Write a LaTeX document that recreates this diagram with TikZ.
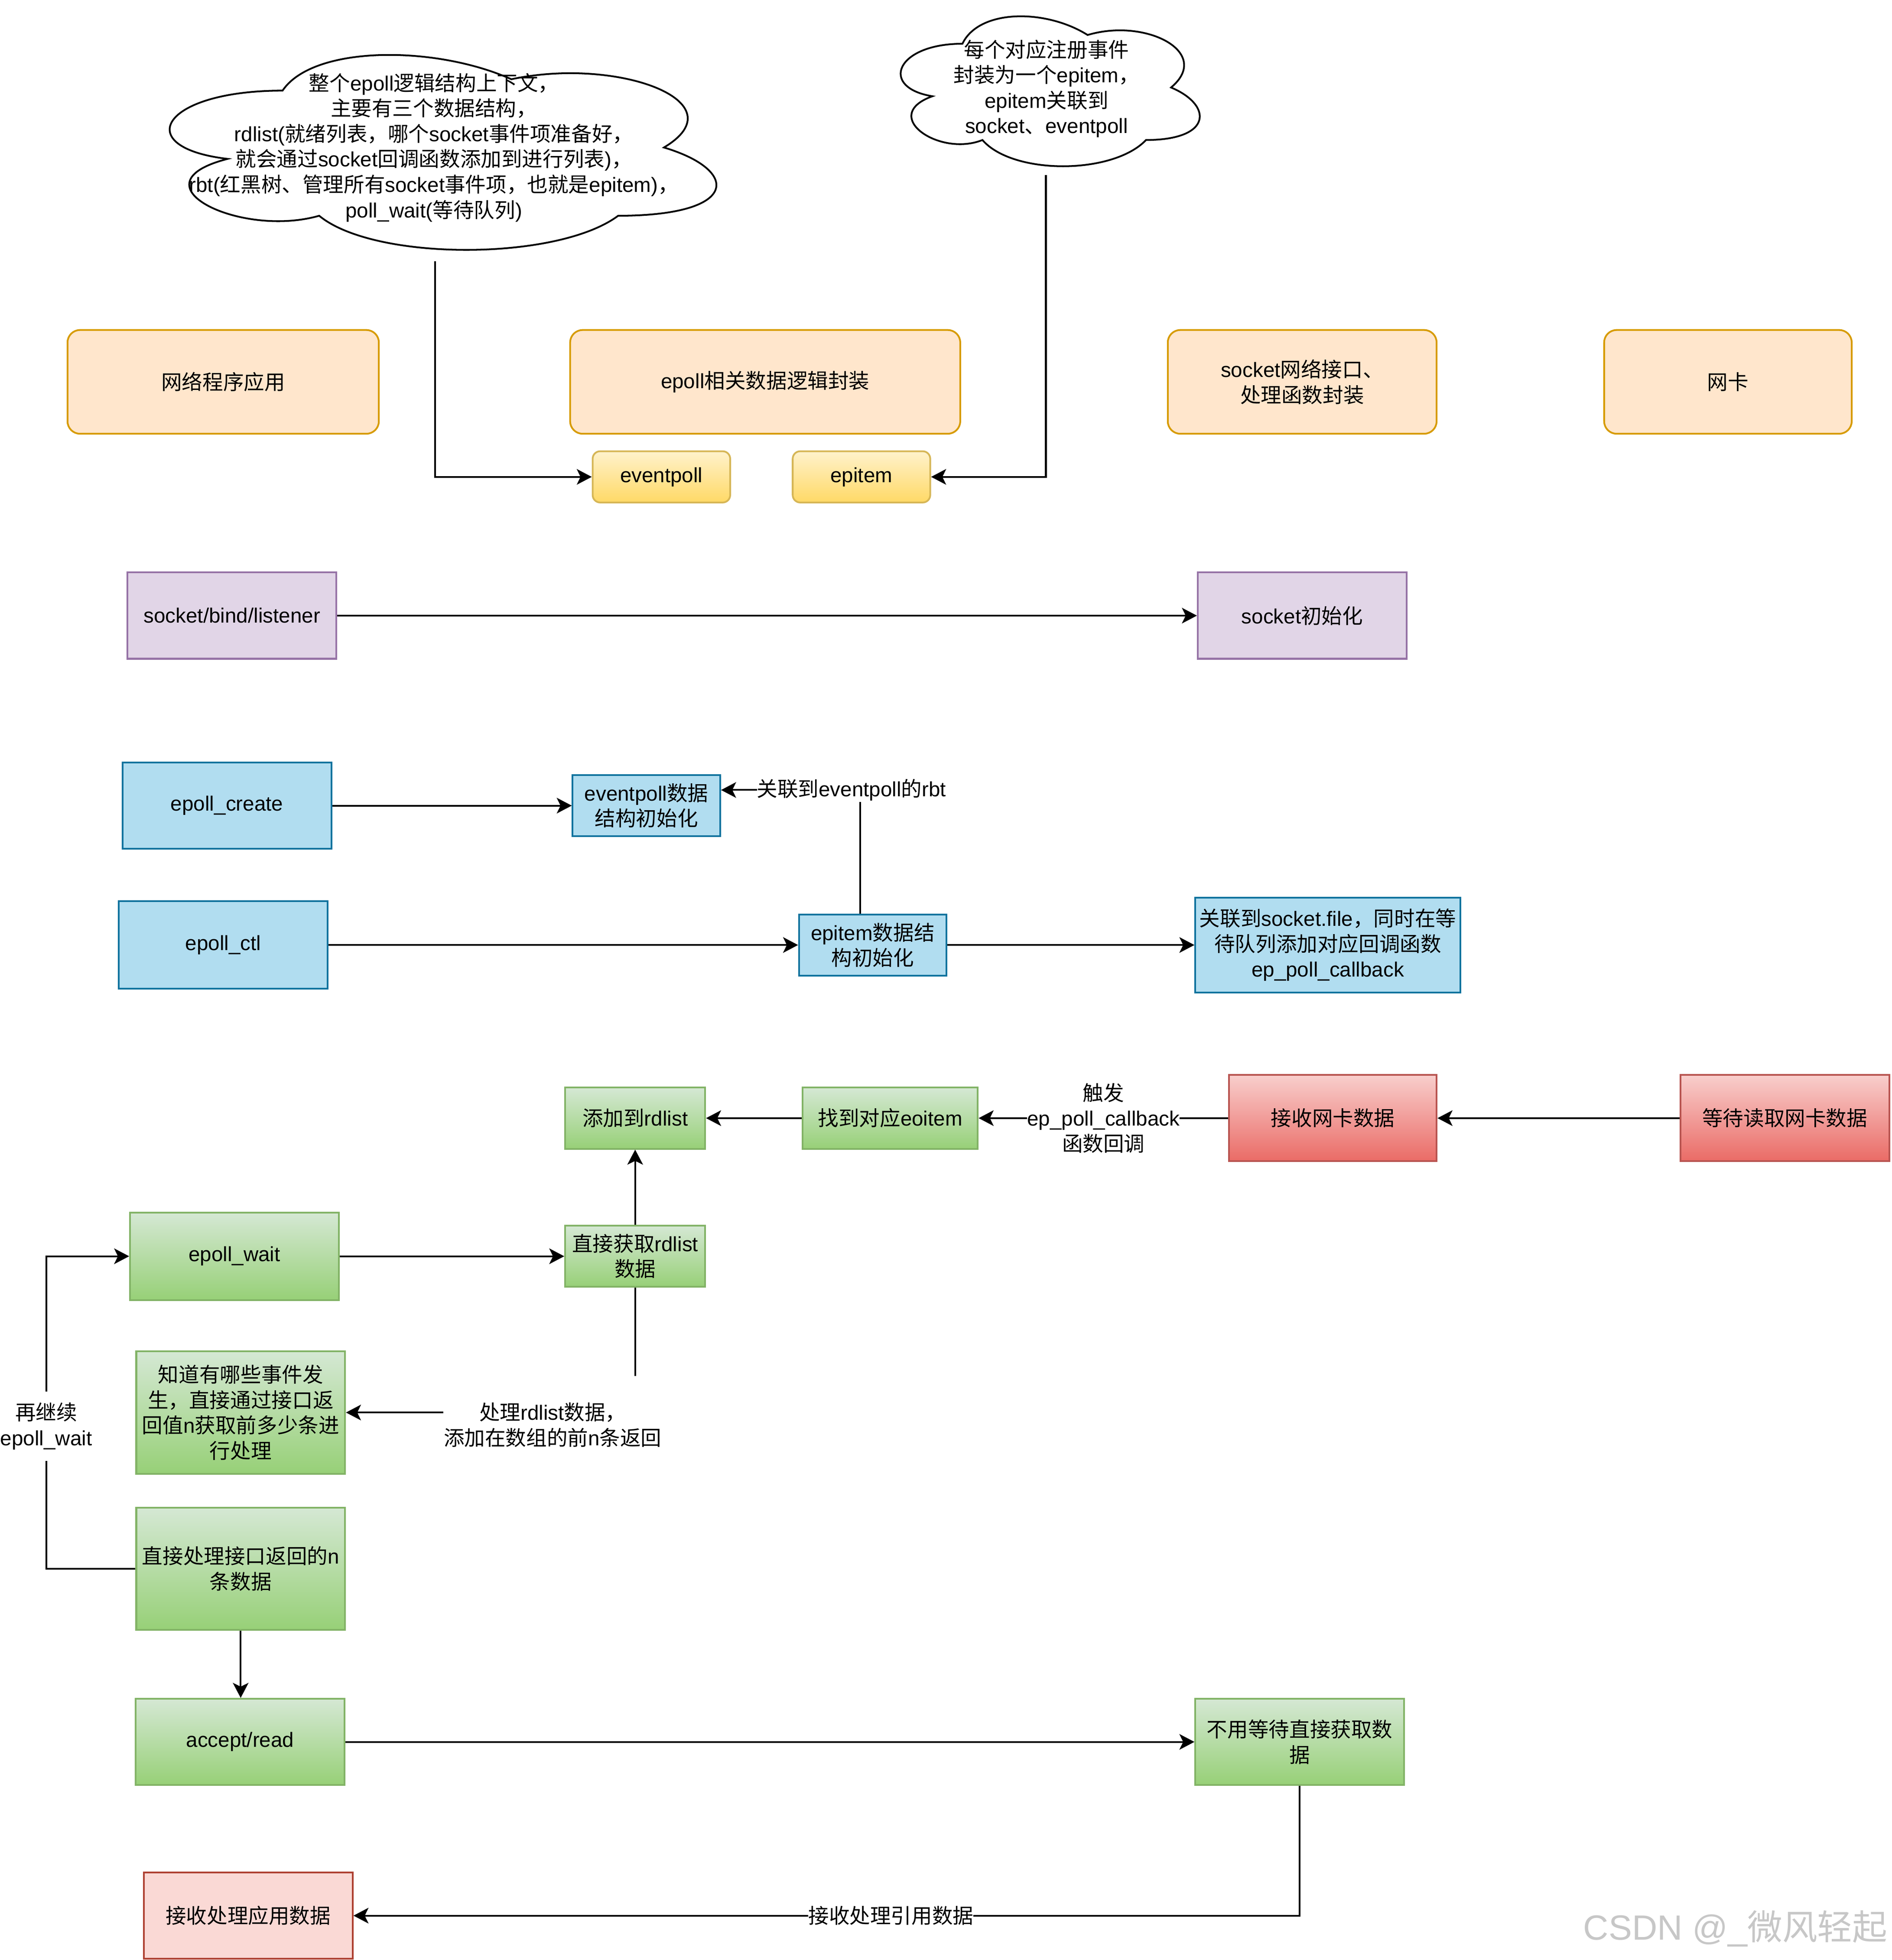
\documentclass[tikz,border=0pt]{standalone}
\usepackage{fontspec}
\setmainfont{Liberation Sans}
\newfontfamily\cjkfont{Noto Sans CJK SC}
\usetikzlibrary{arrows.meta}
\XeTeXinterchartokenstate=1
\newXeTeXintercharclass\cjkclass
\makeatletter
\count@="3000 \loop \XeTeXcharclass\count@=\cjkclass \ifnum\count@<"303F \advance\count@ by 1 \repeat
\count@="4E00 \loop \XeTeXcharclass\count@=\cjkclass \ifnum\count@<"9FFF \advance\count@ by 1 \repeat
\count@="FF00 \loop \XeTeXcharclass\count@=\cjkclass \ifnum\count@<"FFEF \advance\count@ by 1 \repeat
\makeatother
\XeTeXinterchartoks 0 \cjkclass = {\cjkfont}
\XeTeXinterchartoks 4095 \cjkclass = {\cjkfont}
\XeTeXinterchartoks \cjkclass 0 = {\rmfamily}
\XeTeXinterchartoks \cjkclass 4095 = {\rmfamily}
\definecolor{orF}{HTML}{FFE6CC}\definecolor{orD}{HTML}{D79B00}
\definecolor{yT}{HTML}{FFF2CC}\definecolor{yB}{HTML}{FFD966}\definecolor{yD}{HTML}{D6B656}
\definecolor{puF}{HTML}{E1D5E7}\definecolor{puD}{HTML}{9673A6}
\definecolor{blF}{HTML}{B1DDF0}\definecolor{blD}{HTML}{10739E}
\definecolor{gT}{HTML}{D5E8D4}\definecolor{gB}{HTML}{97D077}\definecolor{gD}{HTML}{82B366}
\definecolor{rT}{HTML}{F8CECC}\definecolor{rB}{HTML}{EA6B66}\definecolor{rD}{HTML}{B85450}
\definecolor{pkF}{HTML}{FAD9D5}\definecolor{pkD}{HTML}{AE4132}
\newcommand{\fs}{\fontsize{16.5}{20.3}\selectfont}
\begin{document}
\begin{tikzpicture}[x=1pt,y=-1pt,
  base/.style={line width=1.4pt, align=center, inner sep=1pt, font=\fs},
  obox/.style={base, draw=orD, fill=orF, rounded corners=10pt},
  ybox/.style={base, draw=yD, top color=yT, bottom color=yB, rounded corners=6pt},
  pbox/.style={base, draw=puD, fill=puF},
  bbox/.style={base, draw=blD, fill=blF},
  gbox/.style={base, draw=gD, top color=gT, bottom color=gB},
  rbox/.style={base, draw=rD, top color=rT, bottom color=rB},
  kbox/.style={base, draw=pkD, fill=pkF},
  lbl/.style={fill=white, inner xsep=0pt, inner ysep=1pt, align=center, font=\fs},
  arr/.style={-{Stealth[length=12pt,width=12.5pt,inset=3pt]}, line width=1.4pt},
  ln/.style={line width=1.4pt},
  cloudline/.style={line width=1.4pt, fill=white}]
\useasboundingbox (0,0) rectangle (1513,1568);

% clouds
\draw[cloudline, shift={(104,27)}, xscale=488, yscale=182]
  (0.25,0.25) .. controls (0.05,0.25) and (0,0.5) .. (0.16,0.55)
  .. controls (0,0.66) and (0.18,0.9) .. (0.31,0.8)
  .. controls (0.4,1) and (0.7,1) .. (0.8,0.8)
  .. controls (1,0.8) and (1,0.6) .. (0.875,0.5)
  .. controls (1,0.3) and (0.8,0.1) .. (0.625,0.2)
  .. controls (0.5,0.05) and (0.3,0.05) .. (0.25,0.25) -- cycle;
\draw[cloudline, shift={(703,0)}, xscale=267, yscale=140]
  (0.25,0.25) .. controls (0.05,0.25) and (0,0.5) .. (0.16,0.55)
  .. controls (0,0.66) and (0.18,0.9) .. (0.31,0.8)
  .. controls (0.4,1) and (0.7,1) .. (0.8,0.8)
  .. controls (1,0.8) and (1,0.6) .. (0.875,0.5)
  .. controls (1,0.3) and (0.8,0.1) .. (0.625,0.2)
  .. controls (0.5,0.05) and (0.3,0.05) .. (0.25,0.25) -- cycle;
\node[align=center, font=\fs, inner sep=0pt] (c1) at (347,118) {整个epoll逻辑结构上下文，\\主要有三个数据结构，\\rdlist(就绪列表，哪个socket事件项准备好，\\就会通过socket回调函数添加到进行列表)，\\rbt(红黑树、管理所有socket事件项，也就是epitem)，\\poll\_wait(等待队列)};
\node[align=center, font=\fs, inner sep=0pt] (c2) at (837,71) {每个对应注册事件\\封装为一个epitem，\\epitem关联到\\socket、eventpoll};
\coordinate (c1b) at (348,209);
\coordinate (c2b) at (836.5,140);

% top row
\node[obox, minimum width=249, minimum height=83] (n1) at (178.5,305.5) {网络程序应用};
\node[obox, minimum width=312, minimum height=83] (n2) at (612,305.5) {epoll相关数据逻辑封装};
\node[obox, minimum width=215, minimum height=83] (n3) at (1041.5,305.5) {socket网络接口、\\处理函数封装};
\node[obox, minimum width=198, minimum height=83] (n4) at (1382,305.5) {网卡};
\node[ybox, minimum width=110, minimum height=41] (ev) at (529,381.5) {eventpoll};
\node[ybox, minimum width=110, minimum height=41] (ei) at (689,381.5) {epitem};

% socket row
\node[pbox, minimum width=167, minimum height=69] (sb) at (185.5,492.5) {socket/bind/listener};
\node[pbox, minimum width=167, minimum height=69] (si) at (1041.5,492.5) {socket初始化};

% epoll create/ctl
\node[bbox, minimum width=167, minimum height=69] (ec) at (181.5,644.5) {epoll\_create};
\node[bbox, minimum width=118, minimum height=49] (ed) at (517,644.5) {eventpoll数据\\结构初始化};
\node[bbox, minimum width=167, minimum height=70] (el) at (178.5,756) {epoll\_ctl};
\node[bbox, minimum width=118, minimum height=49] (eid) at (698,756) {epitem数据结\\构初始化};
\node[bbox, minimum width=212, minimum height=76] (sf) at (1062,756) {关联到socket.file，同时在等\\待队列添加对应回调函数\\ep\_poll\_callback};

% callback row
\node[gbox, minimum width=112, minimum height=49] (ar) at (508,894.5) {添加到rdlist};
\node[gbox, minimum width=140, minimum height=49] (fe) at (712,894.5) {找到对应eoitem};
\node[rbox, minimum width=166, minimum height=69] (rn) at (1066,894.5) {接收网卡数据};
\node[rbox, minimum width=167, minimum height=69] (wn) at (1427.5,894.5) {等待读取网卡数据};

% epoll_wait
\node[gbox, minimum width=167, minimum height=70] (ew) at (187.5,1005) {epoll\_wait};
\node[gbox, minimum width=112, minimum height=49] (gr) at (508,1005) {直接获取rdlist\\数据};
\node[gbox, minimum width=167, minimum height=98] (kn) at (192.5,1130) {知道有哪些事件发\\生，直接通过接口返\\回值n获取前多少条进\\行处理};
\node[gbox, minimum width=167, minimum height=98] (dp) at (192.5,1255) {直接处理接口返回的n\\条数据};
\node[gbox, minimum width=167, minimum height=69] (acc) at (192,1393.5) {accept/read};
\node[gbox, minimum width=167, minimum height=69] (nw) at (1039.5,1393.5) {不用等待直接获取数\\据};
\node[kbox, minimum width=167, minimum height=69] (app) at (198.5,1532.5) {接收处理应用数据};

% text-only node
\node[lbl, minimum height=78] (pl) at (442,1140) {处理rdlist数据，\\添加在数组的前n条返回};

% connectors
\draw[arr] (c1b) |- (ev.west);
\draw[arr] (c2b) |- (ei.east);
\draw[arr] (sb) -- (si);
\draw[arr] (ec) -- (ed);
\draw[arr] (el) -- (eid);
\draw[arr] (eid) -- (sf);
\coordinate (rbtpos) at (681,632);
\draw[arr] ([xshift=-10pt]eid.north) |- (ed.east |- rbtpos);
\node[lbl] (rbt) at (rbtpos) {关联到eventpoll的rbt};
\draw[arr] (wn) -- (rn);
\draw[arr] (rn) -- node[lbl] (cbl) {触发\\ep\_poll\_callback\\函数回调} (fe);
\draw[arr] (fe) -- (ar);
\draw[arr] (ew) -- (gr);
\draw[arr] (gr) -- (ar);
\draw[ln] (gr.south) -- (gr.south |- pl.north);
\draw[arr] (pl.west |- kn.east) -- (kn.east);
\coordinate (loopx) at (37,1005);
\draw[arr] (dp.west) -| (loopx) -- (ew.west);
\node[lbl, inner ysep=9pt] (re) at (37,1141) {再继续\\epoll\_wait};
\draw[arr] (dp.south) -- (dp.south |- acc.north);
\draw[arr] (acc) -- (nw);
\draw[arr] (nw.south) |- node[lbl, pos=0.716] (rl) {接收处理引用数据} (app.east);

% watermark
\node[text=black!22, font=\fontsize{28}{30}\selectfont, inner sep=0pt] (wm) at (1388,1543) {CSDN @\_微风轻起};
\end{tikzpicture}
\end{document}
